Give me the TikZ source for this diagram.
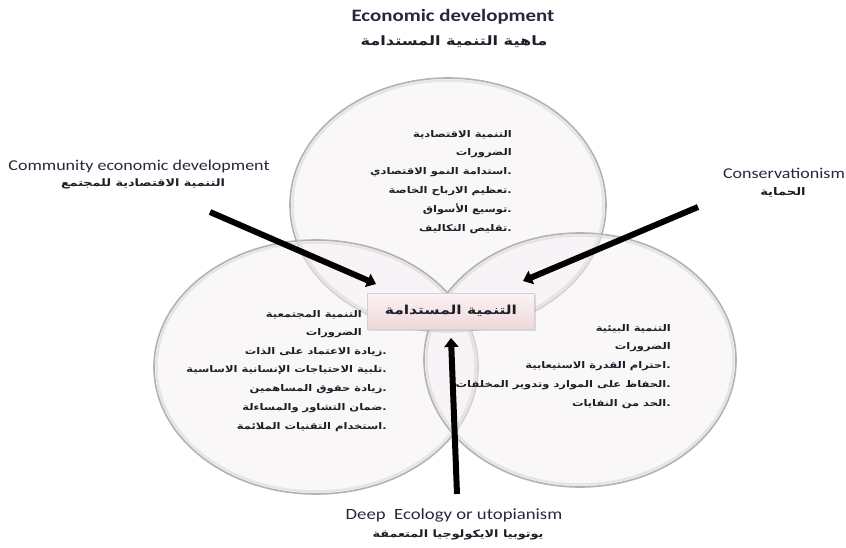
\documentclass[tikz,border=0pt]{standalone}
\usepackage{fontspec}
\usetikzlibrary{arrows.meta,shadows}
\TeXXeTstate=1
\setmainfont[FakeStretch=1.2]{Carlito}
\newfontfamily\ar[Script=Arabic,FakeStretch=1.25]{DejaVu Sans}
\newcommand\RL[1]{\beginR#1\endR}
\definecolor{circfill}{RGB}{247,240,244}
\definecolor{boxtop}{RGB}{251,243,243}
\definecolor{boxbot}{RGB}{238,216,218}
\definecolor{txt}{RGB}{30,30,40}
\definecolor{engtxt}{RGB}{40,40,60}
\tikzset{
  venn/.style={draw=gray!60, line width=1.6pt, fill=circfill, fill opacity=0.5},
  vennedge/.style={draw=gray!30, line width=2.5pt, draw opacity=0.6},
  bigarrow/.style={line width=6pt, black, -{Triangle[length=9pt,width=14pt]}},
  engl/.style={font=\fontsize{15}{17}\selectfont, text=engtxt, inner sep=0pt},
  engtitle/.style={font=\bfseries\fontsize{17.4}{19}\selectfont, text=engtxt, inner sep=0pt},
  arlabel/.style={font=\ar\bfseries\fontsize{10.2}{12}\selectfont, text=txt, inner sep=0pt},
  arblock/.style={font=\ar\bfseries\fontsize{9.2}{18.8}\selectfont, text=txt, align=right, inner sep=0pt, anchor=north east},
  centerbox/.style={draw=gray!35, line width=0.6pt, top color=boxtop, bottom color=boxbot,
     minimum width=167pt, minimum height=36pt, inner sep=0pt, drop shadow={opacity=0.25, shadow xshift=1.5pt, shadow yshift=-1.5pt},
     font=\ar\bfseries\fontsize{12.4}{14}\selectfont, text=txt}
}
\begin{document}
\begin{tikzpicture}[x=1pt,y=-1pt]
\useasboundingbox[fill=white] (0,0) rectangle (846,547);
% circles
\draw[venn] (448,205) ellipse [x radius=158pt, y radius=127pt];
\draw[venn] (316,367) ellipse [x radius=162pt, y radius=127pt];
\draw[venn] (580,360) ellipse [x radius=156pt, y radius=127pt];
\draw[vennedge] (448,205) ellipse [x radius=155.5pt, y radius=124.5pt];
\draw[vennedge] (316,367) ellipse [x radius=159.5pt, y radius=124.5pt];
\draw[vennedge] (580,360) ellipse [x radius=153.5pt, y radius=124.5pt];
% top texts
\node[engtitle] (t1) at (453,17) {Economic development};
\node[arlabel, font=\ar\bfseries\fontsize{12.9}{14}\selectfont] (t2) at (454,42) {\RL{ماهية التنمية المستدامة}};
% circle texts
\node[arblock] (econ) at (512,130) {\RL{التنمية الاقتصادية}\\ \RL{الضرورات}\\ \RL{استدامة النمو الاقتصادي}.\\ \RL{تعظيم الارباح الخاصة}.\\ \RL{توسيع الأسواق}.\\ \RL{تقليص التكاليف}.};
\node[arblock] (soc1) at (362,310) {\RL{التنمية المجتمعية}\\ \RL{الضرورات}};
\node[arblock] (soc2) at (387,347) {\RL{زيادة الاعتماد على الذات}.\\ \RL{تلبية الاحتياجات الإنسانية الاساسية}.\\ \RL{زيادة حقوق المساهمين}.\\ \RL{ضمان التشاور والمساءلة}.\\ \RL{استخدام التقنيات الملائمة}.};
\node[arblock] (env) at (671,324) {\RL{التنمية البيئية}\\ \RL{الضرورات}\\ \RL{احترام القدرة الاستيعابية}.\\ \RL{الحفاظ على الموارد وتدوير المخلفات}.\\ \RL{الحد من النفايات}.};
% center box
\node[centerbox] (sd) at (451,311) {\RL{التنمية المستدامة}};
% side labels
\node[engl] (c1) at (139,166) {Community economic development};
\node[arlabel] (c2) at (143,184) {\RL{التنمية الاقتصادية للمجتمع}};
\node[engl] (k1) at (784,173) {Conservationism};
\node[arlabel, font=\ar\bfseries\fontsize{10.5}{12}\selectfont] (k2) at (783,192) {\RL{الحماية}};
\node[engl, font=\fontsize{15.6}{17}\selectfont] (d1) at (454,515) {Deep\ \ Ecology or utopianism};
\node[arlabel] (d2) at (458,535) {\RL{يوتوبيا الايكولوجيا المتعمقة}};
% arrows
\coordinate (la) at (210,212);
\coordinate (lb) at (376,284);
\coordinate (ra) at (698,207);
\coordinate (rb) at (523,281);
\coordinate (ba) at (457,494);
\coordinate (bb) at (451,338);
\draw[bigarrow] (la) -- (lb);
\draw[bigarrow] (ra) -- (rb);
\draw[bigarrow] (ba) -- (bb);
\end{tikzpicture}
\end{document}
